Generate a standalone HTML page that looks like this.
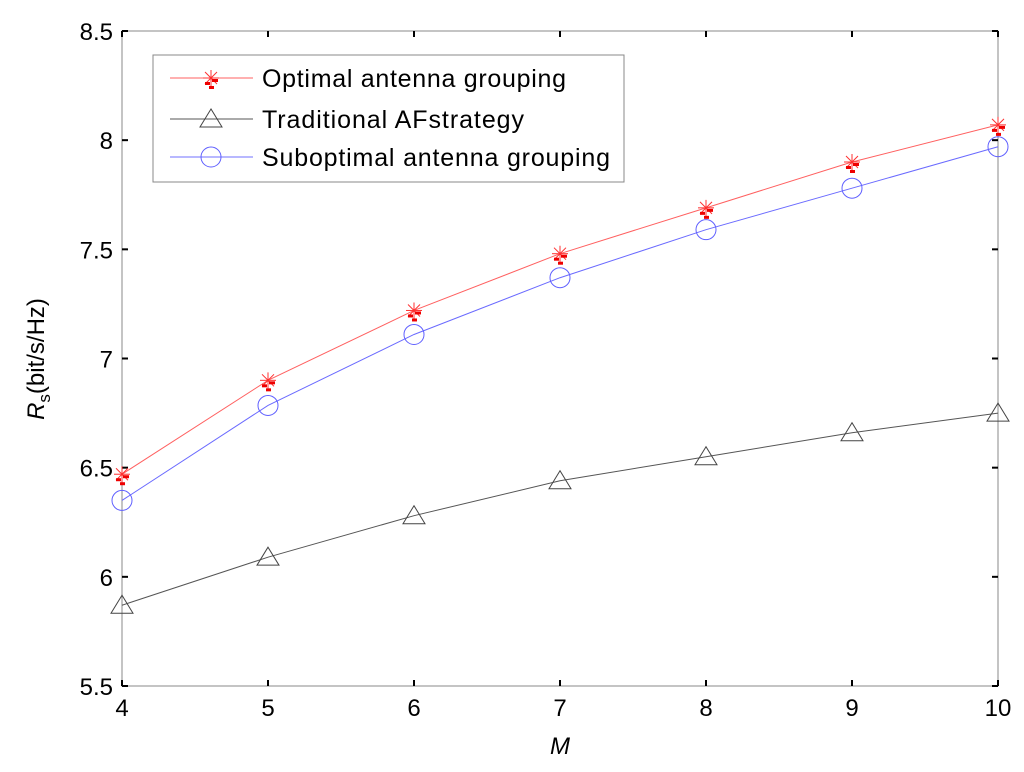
<!DOCTYPE html>
<html><head><meta charset="utf-8"><style>
body{margin:0;background:#fff}
svg{display:block;font-family:"Liberation Sans",Arial,sans-serif}
</style></head><body>
<svg id="chart" width="1024" height="772" viewBox="0 0 1024 772" xmlns="http://www.w3.org/2000/svg">
<rect width="1024" height="772" fill="#fff"/>
<g id="axes"></g>
<g id="series"></g>
<g id="legend">
  <rect x="153" y="55" width="471" height="127" fill="#fff" stroke="#888" stroke-width="1"/>
  <line x1="170" y1="78" x2="253" y2="78" stroke="#ff6060" stroke-width="1"/>
  <text x="262" y="87" font-size="25" textLength="304" fill="#000">Optimal antenna grouping</text>
  <line x1="170" y1="119" x2="253" y2="119" stroke="#555" stroke-width="1"/>
  <text x="262" y="128" font-size="25" textLength="262" fill="#000">Traditional AFstrategy</text>
  <line x1="170" y1="157" x2="253" y2="157" stroke="#7070ff" stroke-width="1"/>
  <text x="262" y="166" font-size="25" textLength="348" fill="#000">Suboptimal antenna grouping</text>
</g>
<text x="560" y="754" font-size="24" font-style="italic" text-anchor="middle">M</text>
<text transform="translate(44,359) rotate(-90)" font-size="24" text-anchor="middle"><tspan font-style="italic">R</tspan><tspan font-size="17" dy="6">s</tspan><tspan dy="-6">(bit/s/Hz)</tspan></text>
</svg>
<script>
const categories=[4,5,6,7,8,9,10];
const optimalValues=[6.47,6.90,7.22,7.48,7.69,7.90,8.07];
const traditionalValues=[5.87,6.09,6.28,6.44,6.55,6.66,6.75];
const suboptimalValues=[6.35,6.785,7.11,7.37,7.59,7.78,7.97];
const yTicks=[5.5,6,6.5,7,7.5,8,8.5];
const yTickLabels=["5.5","6","6.5","7","7.5","8","8.5"];
const xTicks=[4,5,6,7,8,9,10];

const L=122,R=998,T=31,B=686;
const xs=v=>L+(v-4)/(10-4)*(R-L);
const ys=v=>B-(v-5.5)/(8.5-5.5)*(B-T);
const NS="http://www.w3.org/2000/svg";
function mk(tag,attrs,parent){const e=document.createElementNS(NS,tag);for(const k in attrs)e.setAttribute(k,attrs[k]);parent.appendChild(e);return e;}
const ax=document.getElementById('axes');
let frame=mk('rect',{x:L,y:T,width:R-L,height:B-T,fill:'none',stroke:'#888','stroke-width':1},ax);


yTicks.forEach((v,i)=>{
  const y=ys(v);
  mk('line',{x1:L,y1:y,x2:L+6,y2:y,stroke:'#000','stroke-width':2},ax);
  mk('line',{x1:R-6,y1:y,x2:R,y2:y,stroke:'#000','stroke-width':2},ax);
  const t=mk('text',{x:L-9,y:y+9,'font-size':24,'text-anchor':'end'},ax);
  t.textContent=yTickLabels[i];
  
  
});
xTicks.forEach(v=>{
  const x=xs(v);
  mk('line',{x1:x,y1:B,x2:x,y2:B-6,stroke:'#000','stroke-width':2},ax);
  mk('line',{x1:x,y1:T,x2:x,y2:T+6,stroke:'#000','stroke-width':2},ax);
  const t=mk('text',{x:x,y:B+30,'font-size':24,'text-anchor':'middle'},ax);
  t.textContent=String(v);
  
  
});
const sg=document.getElementById('series');
function line(vals,color,name){
  const pts=vals.map((v,i)=>xs(categories[i])+','+ys(v)).join(' ');
  const p=mk('polyline',{points:pts,fill:'none',stroke:color,'stroke-width':1},sg);
  
  
}
function star(x,y,g){
  const c='#ff3030';
  mk('line',{x1:x-8,y1:y,x2:x+8,y2:y,stroke:c},g);
  mk('line',{x1:x,y1:y-8,x2:x,y2:y+8,stroke:c},g);
  mk('line',{x1:x-6,y1:y-6,x2:x+6,y2:y+6,stroke:c},g);
  mk('line',{x1:x-6,y1:y+6,x2:x+6,y2:y-6,stroke:c},g);
  mk('rect',{x:x+1,y:y+1,width:6,height:3,fill:'#e00'},g);
  mk('rect',{x:x-6,y:y+4,width:5,height:3,fill:'#e00'},g);
  mk('rect',{x:x-2,y:y+8,width:5,height:3,fill:'#e00'},g);
}
function tri(x,y,g){mk('polygon',{points:`${x},${y-10} ${x-11},${y+8} ${x+11},${y+8}`,fill:'none',stroke:'#444'},g);}
function circ(x,y,g){mk('circle',{cx:x,cy:y,r:10,fill:'none',stroke:'#6060ff'},g);}
line(optimalValues,'#ff6060','optimal-line');
line(traditionalValues,'#555','traditional-line');
line(suboptimalValues,'#6a6aff','suboptimal-line');
categories.forEach((c,i)=>{
  let g=mk('g',{},sg);star(xs(c),ys(optimalValues[i]),g);
  g=mk('g',{},sg);tri(xs(c),ys(traditionalValues[i]),g);
  g=mk('g',{},sg);circ(xs(c),ys(suboptimalValues[i]),g);
});
const lg=document.getElementById('legend');
star(211,78,lg);tri(211,119,lg);circ(211,157,lg);
</script>
</body></html>
